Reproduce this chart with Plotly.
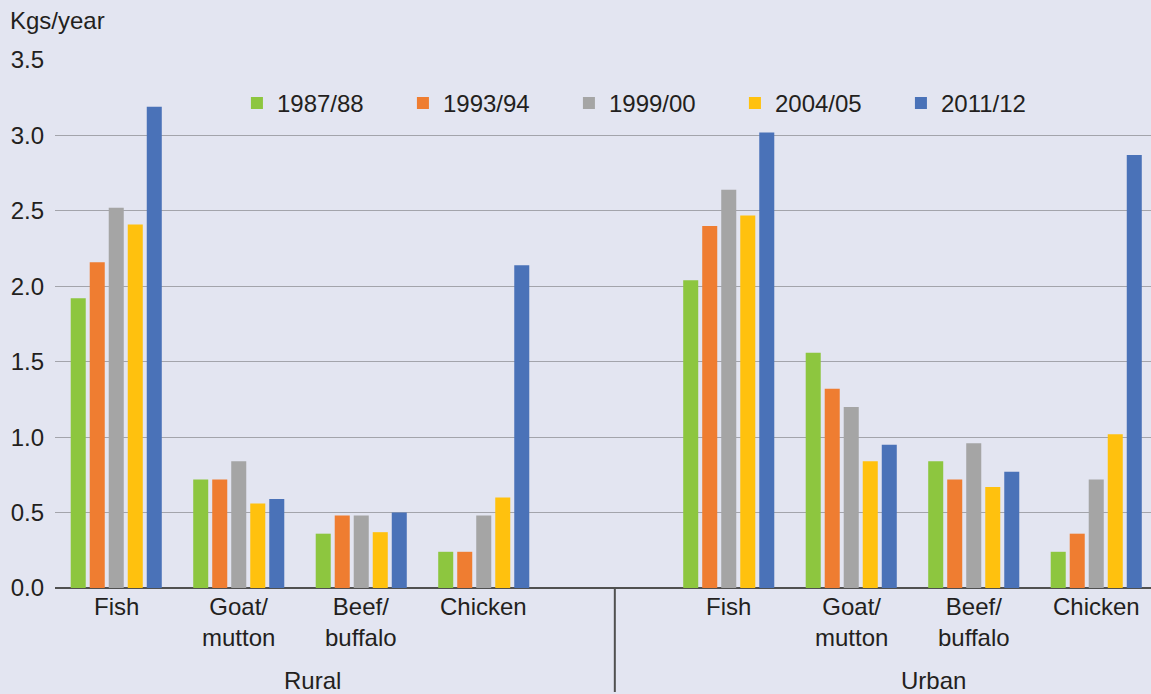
import plotly.graph_objects as go

# Per-capita meat/fish consumption (kg per year), rural vs urban
years = ["1987/88", "1993/94", "1999/00", "2004/05", "2011/12"]
colors = ["#8dc63f", "#ef7d31", "#a5a5a5", "#ffc10e", "#4a72b8"]

items = ["Fish", "Goat/<br>mutton", "Beef/<br>buffalo", "Chicken"]

rural_1987 = [1.92, 0.72, 0.36, 0.24]
rural_1993 = [2.16, 0.72, 0.48, 0.24]
rural_1999 = [2.52, 0.84, 0.48, 0.48]
rural_2004 = [2.41, 0.56, 0.37, 0.60]
rural_2011 = [3.19, 0.59, 0.50, 2.14]

urban_1987 = [2.04, 1.56, 0.84, 0.24]
urban_1993 = [2.40, 1.32, 0.72, 0.36]
urban_1999 = [2.64, 1.20, 0.96, 0.72]
urban_2004 = [2.47, 0.84, 0.67, 1.02]
urban_2011 = [3.02, 0.95, 0.77, 2.87]

rural = [rural_1987, rural_1993, rural_1999, rural_2004, rural_2011]
urban = [urban_1987, urban_1993, urban_1999, urban_2004, urban_2011]

# slot positions: rural 0-3, gap at 4, urban 5-8
rural_x = [0, 1, 2, 3]
urban_x = [5, 6, 7, 8]

FONT = "Liberation Sans, Arial, sans-serif"
TXT = "#231f20"
BG = "#e3e5f1"
FS = 24

fig = go.Figure()
for i, yr in enumerate(years):
    fig.add_trace(go.Bar(
        x=rural_x + urban_x,
        y=rural[i] + urban[i],
        name=yr,
        marker=dict(color=colors[i], line=dict(width=0)),
    ))

annotations = []
for xs in (rural_x, urban_x):
    for xv, lab in zip(xs, items):
        annotations.append(dict(
            x=xv, y=0, xref="x", yref="y", text=lab, showarrow=False,
            yanchor="top", yshift=-3, font=dict(size=FS, color=TXT, family=FONT),
            align="center",
        ))

annotations.append(dict(x=1.6, y=-0.175, xref="x", yref="paper", text="Rural",
                        showarrow=False, yanchor="middle",
                        font=dict(size=FS, color=TXT, family=FONT)))
annotations.append(dict(x=6.67, y=-0.175, xref="x", yref="paper", text="Urban",
                        showarrow=False, yanchor="middle",
                        font=dict(size=FS, color=TXT, family=FONT)))
annotations.append(dict(x=(8 - 55) / 1096, y=(588 - 20) / 528, xref="paper", yref="paper",
                        text="Kgs/year", showarrow=False, xanchor="left", yanchor="middle",
                        font=dict(size=FS, color=TXT, family=FONT)))

fig.update_layout(
    width=1151, height=694,
    margin=dict(l=55, r=0, t=60, b=106),
    paper_bgcolor=BG, plot_bgcolor=BG,
    barmode="group", bargap=0.224, bargroupgap=0.21,
    font=dict(family=FONT, size=FS, color=TXT),
    showlegend=True,
    legend=dict(orientation="h", x=0.166, y=0.918, xanchor="left", yanchor="middle",
                bgcolor="rgba(0,0,0,0)", entrywidth=121, entrywidthmode="pixels",
                font=dict(size=FS, color=TXT, family=FONT)),
    xaxis=dict(range=[-0.5, 8.447], showticklabels=False, showgrid=False,
               zeroline=False, showline=False, ticks=""),
    yaxis=dict(range=[0, 3.5], tickvals=[0, 0.5, 1, 1.5, 2, 2.5, 3, 3.5],
               ticktext=["0.0", "0.5", "1.0", "1.5", "2.0", "2.5", "3.0", "3.5"],
               showgrid=True, gridcolor="#a3a4ab", gridwidth=1,
               zeroline=True, zerolinecolor="#505050", zerolinewidth=2,
               ticks="", ticklabelstandoff=10,
               tickfont=dict(size=FS, color=TXT, family=FONT)),
    annotations=annotations,
    shapes=[dict(type="line", xref="x", yref="paper", x0=4.07, x1=4.07,
                 y0=0, y1=-0.197, line=dict(color="#505050", width=2))],
)

fig.write_html("out.html")
